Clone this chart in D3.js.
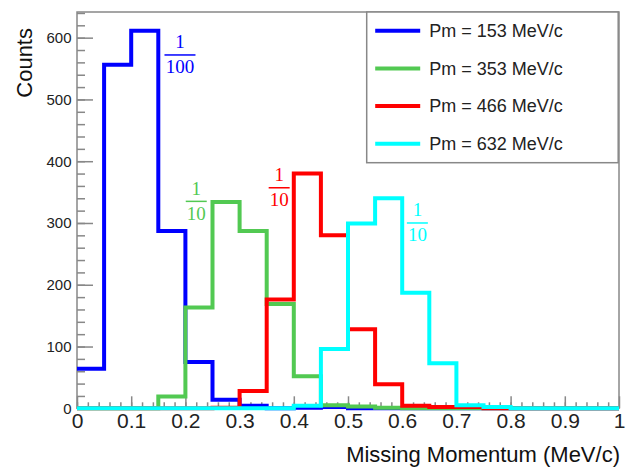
<!DOCTYPE html>
<html>
<head>
<meta charset="utf-8">
<script src="https://cdn.jsdelivr.net/npm/d3@7"></script>
<style>
  body { margin: 0; background: #fff; }
  svg { display: block; font-family: "Liberation Sans", Arial, sans-serif; }
</style>
</head>
<body>
<main></main>
<script>
// bin edges: 20 bins of 0.05 between 0 and 1
const binEdges = d3.range(0, 1.0001, 0.05).map(d => +d.toFixed(2));

const seriesNames = ["Pm = 153 MeV/c", "Pm = 353 MeV/c", "Pm = 466 MeV/c", "Pm = 632 MeV/c"];
const seriesColors = ["#0000ff", "#52c952", "#ff0000", "#00ffff"];

const counts153 = [64, 556, 611, 287, 75, 14, 4, 0, 1, 2, 0, 0, 0, 0, 0, 0, 0, 0, 0, 0];
const counts353 = [0, 0, 0, 19, 163, 334, 287, 169, 52, 5, 3, 1, 0, 0, 0, 0, 0, 0, 0, 0];
const counts466 = [0, 0, 0, 0, 0, 1, 28, 176, 380, 280, 128, 39, 4, 2, 2, 0, 0, 0, 0, 0];
const counts632 = [0, 0, 0, 0, 0, 0, 0, 0, 4, 96, 299, 340, 187, 73, 5, 2, 0, 0, 0, 0];

// scale-factor notes, anchored at (x, count) of the fraction bar
const noteDenominators = ["100", "10", "10", "10"];
const noteX = [0.19, 0.22, 0.373, 0.628];
const noteY = [572, 335, 357, 300];

const series = [counts153, counts353, counts466, counts632];

const dimensions = {
	width: 635,
	height: 471,
	margin: { top: 12, right: 16, bottom: 62.7, left: 77 },
};
dimensions.boundedWidth = dimensions.width - dimensions.margin.left - dimensions.margin.right;
dimensions.boundedHeight = dimensions.height - dimensions.margin.top - dimensions.margin.bottom;

const svg = d3.select("main")
	.append("svg")
		.attr("width", dimensions.width)
		.attr("height", dimensions.height);

const graph = svg.append("g")
	.attr("transform", `translate(${dimensions.margin.left},${dimensions.margin.top})`);

// scales
const yMax = 1.05 * d3.max(series.flat());
const xScale = d3.scaleLinear().domain([0, 1]).range([0, dimensions.boundedWidth]);
const yScale = d3.scaleLinear().domain([0, yMax]).range([dimensions.boundedHeight, 0]);

const axisColor = "#888";

// frame
graph.append("rect")
	.attr("width", dimensions.boundedWidth)
	.attr("height", dimensions.boundedHeight)
	.attr("fill", "none")
	.attr("stroke", axisColor)
	.attr("stroke-width", 1.5);

// y axis: minor + major ticks pointing inward
graph.append("g")
	.call(d3.axisLeft(yScale).tickValues(d3.range(0, yMax, 20)).tickSizeInner(-8).tickSizeOuter(0).tickFormat(""))
	.call(g => g.select(".domain").remove())
	.call(g => g.selectAll("line").attr("stroke", axisColor).attr("stroke-width", 1.5));

graph.append("g")
	.call(d3.axisLeft(yScale).tickValues(d3.range(0, yMax, 100)).tickSizeInner(-16).tickSizeOuter(0).tickPadding(5.5))
	.call(g => g.select(".domain").remove())
	.call(g => g.selectAll("line").attr("stroke", axisColor).attr("stroke-width", 1.5))
	.call(g => g.selectAll("text")
		.attr("font-family", "'Liberation Sans', Arial, sans-serif")
		.attr("font-size", 15)
		.attr("fill", "#222"));

// x axis
const xAxis = graph.append("g")
	.attr("transform", `translate(0,${dimensions.boundedHeight})`);

xAxis.append("g")
	.call(d3.axisBottom(xScale).tickValues(d3.range(0, 50).map(i => i * 0.02)).tickSizeInner(-6).tickSizeOuter(0).tickFormat(""))
	.call(g => g.select(".domain").remove())
	.call(g => g.selectAll("line").attr("stroke", axisColor).attr("stroke-width", 1.5));

xAxis.append("g")
	.call(d3.axisBottom(xScale).ticks(10).tickSizeInner(-12).tickSizeOuter(0).tickPadding(5).tickFormat(d3.format("~g")))
	.call(g => g.select(".domain").remove())
	.call(g => g.selectAll("line").attr("stroke", axisColor).attr("stroke-width", 1.5))
	.call(g => g.selectAll("text")
		.attr("font-family", "'Liberation Sans', Arial, sans-serif")
		.attr("font-size", 21)
		.attr("fill", "#222"));

// histograms as step outlines
const stepPath = values => {
	const p = d3.path();
	values.forEach((v, i) => {
		const x0 = xScale(binEdges[i]);
		const x1 = xScale(binEdges[i + 1]);
		const y = yScale(v);
		if (i === 0) p.moveTo(x0, y); else p.lineTo(x0, y);
		p.lineTo(x1, y);
	});
	return p.toString();
};

graph.selectAll(".hist")
	.data(series)
	.enter()
	.append("path")
		.attr("class", "hist")
		.attr("d", stepPath)
		.attr("fill", "none")
		.attr("stroke", (d, i) => seriesColors[i])
		.attr("stroke-width", 4)
		.attr("stroke-linejoin", "miter");

// fraction notes
const notes = graph.selectAll(".note")
	.data(noteDenominators)
	.enter()
	.append("g")
		.attr("class", "note")
		.attr("transform", (d, i) => `translate(${xScale(noteX[i])},${yScale(noteY[i])})`)
		.attr("fill", (d, i) => seriesColors[i])
		.attr("font-family", "'Liberation Serif', 'DejaVu Serif', serif")
		.attr("font-size", 19)
		.attr("text-anchor", "middle");

notes.append("text")
	.attr("y", -6.5)
	.text("1");

notes.append("text")
	.attr("y", 18.5)
	.text(d => d);

notes.append("line")
	.attr("x1", d => -d.length * 5 - 0.5)
	.attr("x2", d => d.length * 5 + 0.5)
	.attr("stroke", (d, i) => seriesColors[i])
	.attr("stroke-width", 1.5);

// legend
const legend = svg.append("g")
	.attr("transform", "translate(366.7,12)");

legend.append("rect")
	.attr("width", 251.5)
	.attr("height", 150.7)
	.attr("fill", "#fff")
	.attr("stroke", axisColor)
	.attr("stroke-width", 1.5);

const legendItems = legend.selectAll(".item")
	.data(seriesNames)
	.enter()
	.append("g")
		.attr("class", "item")
		.attr("transform", (d, i) => `translate(0,${18.7 + i * 37.7})`);

legendItems.append("line")
	.attr("x1", 8.5)
	.attr("x2", 53.5)
	.attr("stroke", (d, i) => seriesColors[i])
	.attr("stroke-width", 4);

legendItems.append("text")
	.attr("x", 62.5)
	.attr("dy", "0.35em")
	.attr("font-size", 18)
	.attr("fill", "#222")
	.text(d => d);

// axis titles
svg.append("text")
	.attr("transform", "translate(31.5,28) rotate(-90)")
	.attr("text-anchor", "end")
	.attr("font-size", 22)
	.attr("fill", "#111")
	.text("Counts");

svg.append("text")
	.attr("x", 620)
	.attr("y", 462)
	.attr("text-anchor", "end")
	.attr("font-size", 22)
	.attr("fill", "#111")
	.text("Missing Momentum (MeV/c)");
</script>
</body>
</html>
